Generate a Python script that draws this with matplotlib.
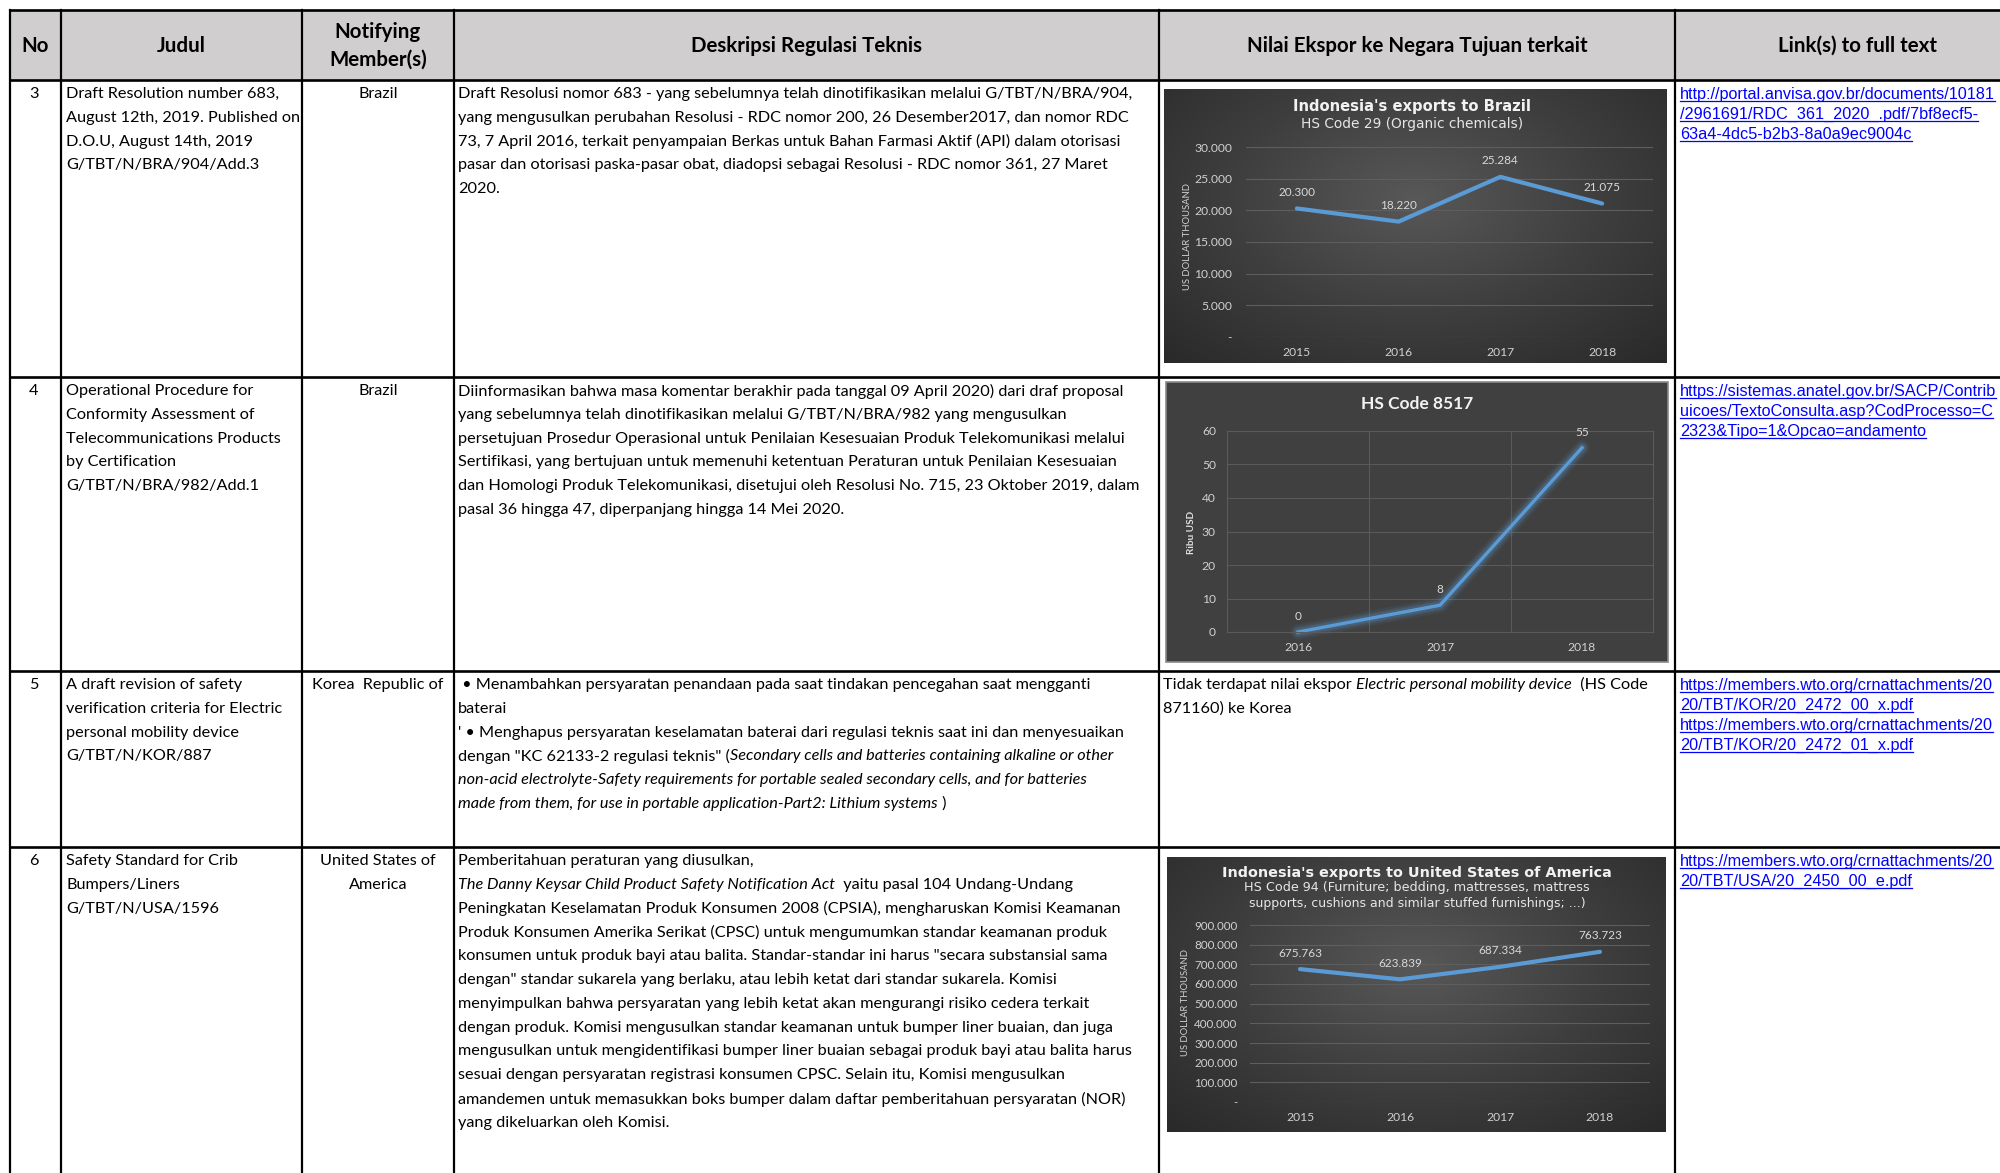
import numpy as np
import matplotlib
matplotlib.use("Agg")
import matplotlib.pyplot as plt
from matplotlib.colors import LinearSegmentedColormap
from matplotlib.patches import Rectangle
from matplotlib.ticker import FuncFormatter

plt.rcParams['font.family'] = ['Lato', 'DejaVu Sans']

# ---------------- chart data ----------------
brazil_years = ["2015", "2016", "2017", "2018"]
brazil_values = [20300, 18220, 25284, 21075]

hs8517_years = ["2016", "2017", "2018"]
hs8517_values = [0, 8, 55]

usa_years = ["2015", "2016", "2017", "2018"]
usa_values = [675763, 623839, 687334, 763723]

# ---------------- table text ----------------
headers = ["No", "Judul", "Notifying\nMember(s)", "Deskripsi Regulasi Teknis",
           "Nilai Ekspor ke Negara Tujuan terkait", "Link(s) to full text"]
row_numbers = ["3", "4", "5", "6"]

judul = [
    ["Draft Resolution number 683,", "August 12th, 2019. Published on",
     "D.O.U, August 14th, 2019", "G/TBT/N/BRA/904/Add.3"],
    ["Operational Procedure for", "Conformity Assessment of",
     "Telecommunications Products", "by Certification", "G/TBT/N/BRA/982/Add.1"],
    ["A draft revision of safety", "verification criteria for Electric",
     "personal mobility device", "G/TBT/N/KOR/887"],
    ["Safety Standard for Crib", "Bumpers/Liners", "G/TBT/N/USA/1596"],
]

members = [["Brazil"], ["Brazil"], ["Korea  Republic of"], ["United States of", "America"]]

# each line is a plain string or a list of (text, fontstyle) pieces
descriptions = [
    ["Draft Resolusi nomor 683 - yang sebelumnya telah dinotifikasikan melalui G/TBT/N/BRA/904,",
     "yang mengusulkan perubahan Resolusi - RDC nomor 200, 26 Desember2017, dan nomor RDC",
     "73, 7 April 2016, terkait penyampaian Berkas untuk Bahan Farmasi Aktif (API) dalam otorisasi",
     "pasar dan otorisasi paska-pasar obat, diadopsi sebagai Resolusi - RDC nomor 361, 27 Maret",
     "2020."],
    ["Diinformasikan bahwa masa komentar berakhir pada tanggal 09 April 2020) dari draf proposal",
     "yang sebelumnya telah dinotifikasikan melalui G/TBT/N/BRA/982 yang mengusulkan",
     "persetujuan Prosedur Operasional untuk Penilaian Kesesuaian Produk Telekomunikasi melalui",
     "Sertifikasi, yang bertujuan untuk memenuhi ketentuan Peraturan untuk Penilaian Kesesuaian",
     "dan Homologi Produk Telekomunikasi, disetujui oleh Resolusi No. 715, 23 Oktober 2019, dalam",
     "pasal 36 hingga 47, diperpanjang hingga 14 Mei 2020."],
    [" \u2022 Menambahkan persyaratan penandaan pada saat tindakan pencegahan saat mengganti",
     "baterai",
     "' \u2022 Menghapus persyaratan keselamatan baterai dari regulasi teknis saat ini dan menyesuaikan",
     [("dengan \"KC 62133-2 regulasi teknis\" (", "normal"),
      ("Secondary cells and batteries containing alkaline or other", "italic")],
     [("non-acid electrolyte-Safety requirements for portable sealed secondary cells, and for batteries", "italic")],
     [("made from them, for use in portable application-Part2: Lithium systems", "italic"), (" )", "normal")]],
    ["Pemberitahuan peraturan yang diusulkan,",
     [("The Danny Keysar Child Product Safety Notification Act", "italic"),
      ("  yaitu pasal 104 Undang-Undang", "normal")],
     "Peningkatan Keselamatan Produk Konsumen 2008 (CPSIA), mengharuskan Komisi Keamanan",
     "Produk Konsumen Amerika Serikat (CPSC) untuk mengumumkan standar keamanan produk",
     "konsumen untuk produk bayi atau balita. Standar-standar ini harus \"secara substansial sama",
     "dengan\" standar sukarela yang berlaku, atau lebih ketat dari standar sukarela. Komisi",
     "menyimpulkan bahwa persyaratan yang lebih ketat akan mengurangi risiko cedera terkait",
     "dengan produk. Komisi mengusulkan standar keamanan untuk bumper liner buaian, dan juga",
     "mengusulkan untuk mengidentifikasi bumper liner buaian sebagai produk bayi atau balita harus",
     "sesuai dengan persyaratan registrasi konsumen CPSC. Selain itu, Komisi mengusulkan",
     "amandemen untuk memasukkan boks bumper dalam daftar pemberitahuan persyaratan (NOR)",
     "yang dikeluarkan oleh Komisi."],
]

export_note = [
    [("Tidak terdapat nilai ekspor ", "normal"), ("Electric personal mobility device", "italic"),
     ("  (HS Code", "normal")],
    "871160) ke Korea",
]

links = [
    ["http://portal.anvisa.gov.br/documents/10181", "/2961691/RDC_361_2020_.pdf/7bf8ecf5-",
     "63a4-4dc5-b2b3-8a0a9ec9004c"],
    ["https://sistemas.anatel.gov.br/SACP/Contrib", "uicoes/TextoConsulta.asp?CodProcesso=C",
     "2323&Tipo=1&Opcao=andamento"],
    ["https://members.wto.org/crnattachments/20", "20/TBT/KOR/20_2472_00_x.pdf",
     "https://members.wto.org/crnattachments/20", "20/TBT/KOR/20_2472_01_x.pdf"],
    ["https://members.wto.org/crnattachments/20", "20/TBT/USA/20_2450_00_e.pdf"],
]

# ---------------- figure / pixel canvas ----------------
W, H = 2000, 1173
fig = plt.figure(figsize=(W / 100, H / 100), dpi=100)
base = fig.add_axes([0, 0, 1, 1])
base.set_xlim(0, W)
base.set_ylim(H, 0)
base.axis("off")
renderer = fig.canvas.get_renderer()

col_x = [10, 61, 302, 454, 1159, 1675, 2040]
row_y = [10, 80, 377, 671, 847, 1200]
BODY = 11.7
LINK = 11.7
STEP = 23.8
LSTEP = 20

# header band
base.add_patch(Rectangle((col_x[0], row_y[0]), col_x[-1] - col_x[0], row_y[1] - row_y[0],
                         facecolor="#D0CECE", edgecolor="none", zorder=0))
for i, h in enumerate(headers):
    cx = (col_x[i] + col_x[i + 1]) / 2
    base.text(cx, 46, h, ha="center", va="center", fontsize=14.8, fontweight="bold",
              linespacing=1.5)

# grid lines of the table
for y in row_y[:-1]:
    base.plot([col_x[0], col_x[-1]], [y, y], color="black", lw=1.9, zorder=5)
for x in col_x:
    base.plot([x, x], [row_y[0], row_y[-1]], color="black", lw=1.6, zorder=5)


def piece_width(txt, **kw):
    t1 = base.text(0, 0, txt + "I", **kw)
    t2 = base.text(0, 0, "I", **kw)
    w = t1.get_window_extent(renderer).width - t2.get_window_extent(renderer).width
    t1.remove()
    t2.remove()
    return w


def draw_line(x, y, line, size=BODY):
    if isinstance(line, str):
        line = [(line, "normal")]
    for txt, style in line:
        base.text(x, y, txt, ha="left", va="center", fontsize=size, fontstyle=style)
        x += piece_width(txt, fontsize=size, fontstyle=style)


for r in range(4):
    top = row_y[r + 1] + 14
    base.text(34, top, row_numbers[r], ha="center", va="center", fontsize=BODY)
    for i, line in enumerate(judul[r]):
        draw_line(66, top + i * STEP, line)
    for i, line in enumerate(members[r]):
        base.text(378, top + i * STEP, line, ha="center", va="center", fontsize=BODY)
    for i, line in enumerate(descriptions[r]):
        draw_line(458, top + i * STEP, line)
    for i, line in enumerate(links[r]):
        yb = top + i * LSTEP + 5
        t = base.text(1680, yb, line, ha="left", va="baseline", fontsize=LINK,
                      family="Liberation Sans", color="#0000FF")
        bb = t.get_window_extent(renderer)
        base.plot([bb.x0, bb.x1], [yb + 2, yb + 2], color="#0000FF", lw=0.9)

for i, line in enumerate(export_note):
    draw_line(1163, row_y[3] + 14 + i * STEP, line)

# ---------------- embedded charts ----------------
dark = LinearSegmentedColormap.from_list("dark", ["#585858", "#3e3e3e", "#282828"])


def gradient_bg(x0, y0, x1, y1):
    yy, xx = np.mgrid[0:1:200j, 0:1:360j]
    r = np.sqrt(((xx - 0.5) / 0.75) ** 2 + ((yy - 0.4) / 0.85) ** 2)
    base.imshow(r, extent=(x0, x1, y1, y0), cmap=dark, vmin=0, vmax=1,
                aspect="auto", zorder=1)


def chart_axes(x0, y0, x1, y1):
    ax = fig.add_axes([x0 / W, 1 - y1 / H, (x1 - x0) / W, (y1 - y0) / H])
    ax.patch.set_alpha(0)
    for s in ax.spines.values():
        s.set_visible(False)
    ax.tick_params(length=0, colors="#D0D0D0")
    return ax


def dot_thousands(v, pos=None):
    if v == 0:
        return "-"
    return f"{v:,.0f}".replace(",", ".")


# chart 1: exports to Brazil
gradient_bg(1164, 89, 1667, 363)
base.set_xlim(0, W)
base.set_ylim(H, 0)
base.text(1412, 107, "Indonesia's exports to Brazil", ha="center", va="center",
          family="DejaVu Sans", fontweight="bold", fontsize=10.6, color="#F2F2F2", zorder=3)
base.text(1412, 124, "HS Code 29 (Organic chemicals)", ha="center", va="center",
          family="DejaVu Sans", fontsize=9.9, color="#E6E6E6", zorder=3)
base.text(1187, 237, "US DOLLAR THOUSAND", ha="center", va="center", rotation=90,
          fontsize=6.8, color="#D0D0D0", zorder=3)

ax1 = chart_axes(1246, 147, 1653, 337)
x1 = np.arange(len(brazil_years))
ax1.plot(x1, brazil_values, color="#5B9BD5", lw=3, solid_capstyle="round", clip_on=False)
ax1.set_xlim(-0.5, len(brazil_years) - 0.5)
ax1.set_ylim(0, 30000)
ax1.set_yticks(range(0, 30001, 5000))
ax1.yaxis.set_major_formatter(FuncFormatter(dot_thousands))
ax1.set_xticks(x1, brazil_years)
ax1.grid(axis="y", color="#5E5E5E", lw=0.8)
ax1.tick_params(axis="y", pad=10, labelsize=8.7)
ax1.tick_params(axis="x", pad=7, labelsize=8.7)
for xi, v in zip(x1, brazil_values):
    ax1.annotate(dot_thousands(v), (xi, v), xytext=(0, 11.5), textcoords="offset points",
                 ha="center", va="center", fontsize=8.5, color="#D9D9D9", annotation_clip=False)

# chart 2: HS Code 8517
base.add_patch(Rectangle((1166, 382), 502, 280, facecolor="#404040", edgecolor="#8A8A8A",
                         lw=1.2, zorder=1))
base.text(1417, 404, "HS Code 8517", ha="center", va="center", fontsize=12.5,
          fontweight="bold", color="#F2F2F2", zorder=3)
base.text(1192, 532, "Ribu USD", ha="center", va="center", rotation=90, fontsize=7.2,
          fontweight="bold", color="#E0E0E0", zorder=3)

ax2 = chart_axes(1227, 431, 1653, 632)
x2 = np.arange(len(hs8517_years))
for lw, a in [(11, 0.08), (8, 0.12), (5.5, 0.2)]:
    ax2.plot(x2, hs8517_values, color="#5B9BD5", lw=lw, alpha=a, clip_on=False,
             solid_capstyle="round", solid_joinstyle="round")
ax2.plot(x2, hs8517_values, color="#5B9BD5", lw=2.4, clip_on=False)
ax2.set_xlim(-0.5, len(hs8517_years) - 0.5)
ax2.set_ylim(0, 60)
ax2.set_yticks(range(0, 61, 10))
ax2.set_xticks(x2, hs8517_years)
ax2.set_xticks(x2[:-1] + 0.5, minor=True)
ax2.grid(axis="y", color="#5A5A5A", lw=0.8)
ax2.grid(axis="x", which="minor", color="#5A5A5A", lw=0.8)
for s in ax2.spines.values():
    s.set_visible(True)
    s.set_color("#5A5A5A")
    s.set_linewidth(0.8)
ax2.tick_params(which="both", length=0)
ax2.tick_params(axis="y", pad=8, labelsize=8.7)
ax2.tick_params(axis="x", pad=7, labelsize=8.7)
for xi, v in zip(x2, hs8517_values):
    ax2.annotate(str(v), (xi, v), xytext=(0, 11), textcoords="offset points",
                 ha="center", va="center", fontsize=8.5, color="#D9D9D9", annotation_clip=False)

# chart 3: exports to United States of America
gradient_bg(1167, 857, 1666, 1132)
base.set_xlim(0, W)
base.set_ylim(H, 0)
base.text(1417, 873, "Indonesia's exports to United States of America", ha="center",
          va="center", family="DejaVu Sans", fontweight="bold", fontsize=10.4, color="#F2F2F2",
          zorder=3)
base.text(1417, 888, "HS Code 94 (Furniture; bedding, mattresses, mattress", ha="center",
          va="center", family="DejaVu Sans", fontsize=9.2, color="#E6E6E6", zorder=3)
base.text(1417, 903, "supports, cushions and similar stuffed furnishings; ...)", ha="center",
          va="center", family="DejaVu Sans", fontsize=9.0, color="#E6E6E6", zorder=3)
base.text(1185, 1003, "US DOLLAR THOUSAND", ha="center", va="center", rotation=90,
          fontsize=6.8, color="#D0D0D0", zorder=3)

ax3 = chart_axes(1250, 925, 1650, 1102)
x3 = np.arange(len(usa_years))
ax3.plot(x3, usa_values, color="#5B9BD5", lw=3, solid_capstyle="round", clip_on=False)
ax3.set_xlim(-0.5, len(usa_years) - 0.5)
ax3.set_ylim(0, 900000)
ax3.set_yticks(range(0, 900001, 100000))
ax3.yaxis.set_major_formatter(FuncFormatter(dot_thousands))
ax3.set_xticks(x3, usa_years)
ax3.grid(axis="y", color="#5E5E5E", lw=0.8)
ax3.tick_params(axis="y", pad=9, labelsize=8.4)
ax3.tick_params(axis="x", pad=7, labelsize=8.7)
for xi, v in zip(x3, usa_values):
    ax3.annotate(dot_thousands(v), (xi, v), xytext=(0, 11.5), textcoords="offset points",
                 ha="center", va="center", fontsize=8.5, color="#D9D9D9", annotation_clip=False)

fig.savefig("out.png", dpi=100, facecolor="white")
